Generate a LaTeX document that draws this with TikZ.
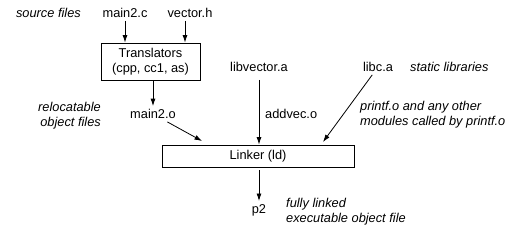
\documentclass[tikz,border=0pt]{standalone}
\usepackage{fontspec}
\setmainfont{Liberation Sans}
\usetikzlibrary{arrows.meta}
\begin{document}
\begin{tikzpicture}[x=1pt,y=-1pt,
  every node/.style={font=\fontsize{12.8}{15}\selectfont,inner sep=3pt},
  note/.style={font=\fontsize{12.8}{15}\selectfont\itshape,inner sep=1pt},
  tool/.style={draw,line width=0.9pt,inner sep=1pt,minimum height=22pt},
  flow/.style={-{Latex[length=7.5pt,width=5pt]},line width=0.8pt}]
  \useasboundingbox (0,0) rectangle (528,241);

  % files and tools
  \node (main2c) at (125,13) {main2.c};
  \node (vectorh) at (190,13) {vector.h};
  \node[tool,minimum width=99pt,minimum height=37pt,align=center] (trans)
    at (150.5,61.5) {Translators\\(cpp, cc1, as)};
  \node (main2o) at (153,114) {main2.o};
  \node (libvec) at (259,67) {libvector.a};
  \node (libc) at (378,67) {libc.a};
  \node[tool,minimum width=192pt] (linker) at (258,156) {Linker (ld)};
  \node (p2) at (259,210) {p2};
  \node[anchor=west,inner sep=1pt] (addvec) at (264,114) {addvec.o};

  % notes
  \node[note,anchor=east] (srcnote) at (82,13) {source files};
  \node[note,anchor=east,align=right] (relnote) at (102,116) {relocatable\\object files};
  \node[note,anchor=west] (libnote) at (409,67) {static libraries};
  \node[note,anchor=west,align=left] (prnote) at (359,115)
    {printf.o and any other\\modules called by printf.o};
  \node[note,anchor=west,align=left] (exenote) at (285,212)
    {fully linked\\executable object file};

  % connectors
  \coordinate (in1) at (202,141);
  \coordinate (in2) at (323,142);
  \draw[flow] (main2c) -- (main2c |- trans.north);
  \draw[flow] ([xshift=-5pt]vectorh.south) -- ([xshift=-5pt]vectorh.south |- trans.north);
  \draw[flow] (trans.south -| main2o) -- (main2o);
  \draw[flow] (main2o) -- (in1);
  \draw[flow,shorten <=5pt] (libvec) -- (libvec |- linker.north);
  \draw[flow] (libc) -- (in2);
  \draw[flow,shorten <=3pt] (linker.south -| p2) -- (p2);
\end{tikzpicture}
\end{document}
